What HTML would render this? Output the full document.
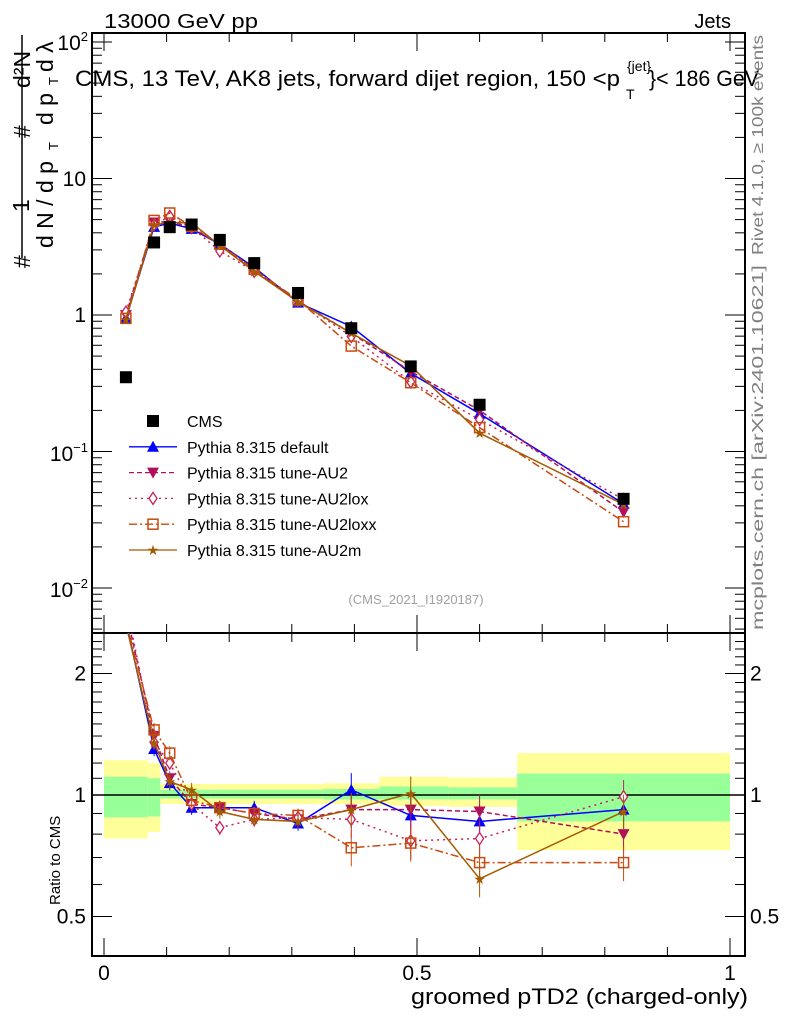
<!DOCTYPE html>
<html><head><meta charset="utf-8"><style>
html,body{margin:0;padding:0;background:#fff;}
svg{display:block;font-family:"Liberation Sans",sans-serif;}
</style></head><body>
<svg id="s" width="786" height="1024" xmlns="http://www.w3.org/2000/svg">
<text x="104" y="28" font-size="20" textLength="154" lengthAdjust="spacingAndGlyphs">13000 GeV pp</text>
<text x="731" y="28" font-size="20" text-anchor="end">Jets</text>
<text x="75" y="86" font-size="22" textLength="545" lengthAdjust="spacingAndGlyphs">CMS, 13 TeV, AK8 jets, forward dijet region, 150 &lt;p</text>
<text x="627" y="71" font-size="14">{jet}</text>
<text x="626" y="99" font-size="14">T</text>
<text x="649" y="86" font-size="22" textLength="110" lengthAdjust="spacingAndGlyphs">}&lt; 186 GeV</text>
<text x="416" y="604" font-size="13" fill="#a0a0a0" text-anchor="middle">(CMS_2021_I1920187)</text>
<text transform="translate(763,255) rotate(-90)" font-size="16" fill="#808080" textLength="220" lengthAdjust="spacingAndGlyphs">Rivet 4.1.0, ≥ 100k events</text>
<text transform="translate(763,630) rotate(-90)" font-size="16" fill="#808080" textLength="365" lengthAdjust="spacingAndGlyphs">mcplots.cern.ch [arXiv:2401.10621]</text>
<g font-size="23">
<text transform="translate(30,268) rotate(-90)">#</text>
<text transform="translate(29,212) rotate(-90)">1</text>
<text transform="translate(30,88) rotate(-90)">d²N</text>
<text transform="translate(53,248) rotate(-90)">d N / d p</text>
<text transform="translate(58,150) rotate(-90)" font-size="13">T</text>
<text transform="translate(30,138) rotate(-90)">#</text>
<text transform="translate(53,125) rotate(-90)">d p</text>
<text transform="translate(58,85) rotate(-90)" font-size="13">T</text>
<text transform="translate(53,72) rotate(-90)">d λ</text>
</g>
<line x1="22" y1="35" x2="22" y2="258" stroke="#000" stroke-width="1.5"/>
<text transform="translate(60,905) rotate(-90)" font-size="15">Ratio to CMS</text>
<text x="748" y="1004" font-size="22" text-anchor="end" textLength="337" lengthAdjust="spacingAndGlyphs">groomed pTD2 (charged-only)</text>
<g id="g"></g>
</svg>
<script>
const g=document.getElementById('g');let h='';
const X=v=>104+626*v;
const YM=v=>315-136.5*Math.log10(v);
const YR=v=>795-403.6*Math.log10(v);
const bins=[[0,0.07,0.78,1.22,0.88,1.11],[0.07,0.09,0.81,1.2,0.885,1.1],[0.09,0.17,0.95,1.065,0.98,1.03],[0.17,0.35,0.95,1.065,0.98,1.03],[0.35,0.44,0.95,1.07,0.975,1.035],[0.44,0.55,0.94,1.11,0.975,1.05],[0.55,0.66,0.935,1.105,0.975,1.045],[0.66,1.0,0.73,1.27,0.86,1.13]];
for(const b of bins){h+=`<rect x="${X(b[0])}" y="${YR(b[3])}" width="${X(b[1])-X(b[0])}" height="${YR(b[2])-YR(b[3])}" fill="#ffff99"/>`;
h+=`<rect x="${X(b[0])}" y="${YR(b[5])}" width="${X(b[1])-X(b[0])}" height="${YR(b[4])-YR(b[5])}" fill="#99ff99"/>`;}
h+=`<line x1="92" x2="745" y1="795" y2="795" stroke="#000" stroke-width="1.5"/>`;
h+=`<rect x="92" y="33" width="653" height="600" fill="none" stroke="#000" stroke-width="2"/>`;
h+=`<rect x="92" y="633" width="653" height="323" fill="none" stroke="#000" stroke-width="2"/>`;
for(let i=0;i<=10;i++){const x=X(i/10),L=(i%5==0)?18:9;
[[33,1],[633,-1],[633,1],[956,-1]].forEach(([y,d])=>{h+=`<line x1="${x}" x2="${x}" y1="${y}" y2="${y+d*L}" stroke="#000"/>`;});}
[[0,'0'],[0.5,'0.5'],[1,'1']].forEach(([v,t])=>{h+=`<text x="${X(v)}" y="980" font-size="21" text-anchor="middle">${t}</text>`;});
for(let e=-3;e<=2;e++){for(let k=1;k<10;k++){const v=k*Math.pow(10,e),y=YM(v);if(y<33||y>633)continue;const L=k==1?20:10;
h+=`<line x1="92" x2="${92+L}" y1="${y}" y2="${y}" stroke="#000"/><line x1="745" x2="${745-L}" y1="${y}" y2="${y}" stroke="#000"/>`;}}
h+=`<text x="88" y="50" font-size="21" text-anchor="end">10<tspan font-size="13" dy="-9">2</tspan></text>`;
h+=`<text x="86" y="186" font-size="21" text-anchor="end">10</text><text x="86" y="322" font-size="21" text-anchor="end">1</text>`;
h+=`<text x="88" y="461" font-size="21" text-anchor="end">10<tspan font-size="13" dy="-9">−1</tspan></text>`;
h+=`<text x="88" y="597" font-size="21" text-anchor="end">10<tspan font-size="13" dy="-9">−2</tspan></text>`;
[0.4,0.5,0.6,0.7,0.8,0.9,1,2].forEach(v=>{const y=YR(v),L=(v==0.5||v==1||v==2)?20:10;h+=`<line x1="92" x2="${92+L}" y1="${y}" y2="${y}" stroke="#000"/><line x1="745" x2="${745-L}" y1="${y}" y2="${y}" stroke="#000"/>`;});
for(let v=1.1;v<2.5;v+=0.1){if(Math.abs(v-2)<0.01)continue;const y=YR(v);if(y<633)break;h+=`<line x1="92" x2="102" y1="${y}" y2="${y}" stroke="#000"/><line x1="745" x2="735" y1="${y}" y2="${y}" stroke="#000"/>`;}
[[2,'2'],[1,'1'],[0.5,'0.5']].forEach(([v,t])=>{const y=YR(v)+7;h+=`<text x="86" y="${y}" font-size="21" text-anchor="end">${t}</text><text x="750" y="${y}" font-size="21">${t}</text>`;});
const xs=[0.035,0.08,0.105,0.14,0.185,0.24,0.31,0.395,0.49,0.6,0.83];
const cms=[0.35,3.4,4.4,4.6,3.55,2.4,1.45,0.8,0.42,0.22,0.045];
const S=[
 {c:'#0000ff',d:'',m:'tri',r:[2.7,1.3,1.07,0.93,0.93,0.93,0.85,1.03,0.89,0.86,0.92]},
 {c:'#b0105a',d:'5,3',m:'dtri',r:[2.85,1.4,1.1,0.95,0.93,0.9,0.87,0.92,0.92,0.91,0.8]},
 {c:'#c8205a',d:'2,4',m:'dia',r:[3.0,1.35,1.2,0.95,0.83,0.87,0.88,0.87,0.77,0.78,0.99]},
 {c:'#c84a10',d:'8,3,2,3',m:'sq',r:[2.7,1.45,1.27,0.97,0.93,0.9,0.89,0.74,0.76,0.68,0.68]},
 {c:'#a55a00',d:'',m:'star',r:[2.65,1.35,1.08,1.03,0.91,0.87,0.86,0.92,1.01,0.62,0.91]}];
function mk(t,x,y,c){if(t=='tri')return `<polygon points="${x},${y-6} ${x-6},${y+5} ${x+6},${y+5}" fill="${c}"/>`;
if(t=='dtri')return `<polygon points="${x},${y+6} ${x-6},${y-5} ${x+6},${y-5}" fill="${c}"/>`;
if(t=='dia')return `<polygon points="${x},${y-6} ${x-4},${y} ${x},${y+6} ${x+4},${y}" fill="#fff" stroke="${c}" stroke-width="1.3"/>`;
if(t=='sq')return `<rect x="${x-5}" y="${y-5}" width="10" height="10" fill="none" stroke="${c}" stroke-width="1.5"/>`;
if(t=='star')return `<text x="${x}" y="${y+5}" font-size="14" fill="${c}" text-anchor="middle">★</text>`;
return `<rect x="${x-6}" y="${y-6}" width="12" height="12" fill="#000"/>`;}
h+=`<clipPath id="cr"><rect x="92" y="633" width="653" height="323"/></clipPath>`;
for(const s of S){
 const mp=xs.map((x,i)=>[X(x),YM(s.r[i]*cms[i])]);
 const rp=xs.map((x,i)=>[X(x),YR(s.r[i])]);
 h+=`<polyline points="${mp.map(p=>p.join(',')).join(' ')}" fill="none" stroke="${s.c}" stroke-width="1.5" stroke-dasharray="${s.d}"/>`;
 h+=`<g clip-path="url(#cr)"><polyline points="${rp.map(p=>p.join(',')).join(' ')}" fill="none" stroke="${s.c}" stroke-width="1.5" stroke-dasharray="${s.d}"/>`;
 rp.forEach((p,i)=>{const e=i>=7?0.1:0.04;h+=`<line x1="${p[0]}" x2="${p[0]}" y1="${YR(s.r[i]*(1+e))}" y2="${YR(s.r[i]*(1-e))}" stroke="${s.c}"/>`;if(i>0)h+=mk(s.m,p[0],p[1],s.c);});
 h+=`</g>`;
 mp.forEach(p=>h+=mk(s.m,p[0],p[1],s.c));
}
xs.forEach((x,i)=>h+=mk('cms',X(x),YM(cms[i])));
const L=[['cms','#000','','CMS'],['tri','#0000ff','','Pythia 8.315 default'],['dtri','#b0105a','5,3','Pythia 8.315 tune-AU2'],['dia','#c8205a','2,4','Pythia 8.315 tune-AU2lox'],['sq','#c84a10','8,3,2,3','Pythia 8.315 tune-AU2loxx'],['star','#a55a00','','Pythia 8.315 tune-AU2m']];
L.forEach((l,i)=>{const y=421+25.8*i;if(i>0)h+=`<line x1="129" x2="177" y1="${y}" y2="${y}" stroke="${l[1]}" stroke-width="1.3" stroke-dasharray="${l[2]}"/>`;
h+=mk(l[0],153,y,l[1]);h+=`<text x="187" y="${y+6}" font-size="16">${l[3]}</text>`;});
g.innerHTML=h;
</script>
</body></html>
